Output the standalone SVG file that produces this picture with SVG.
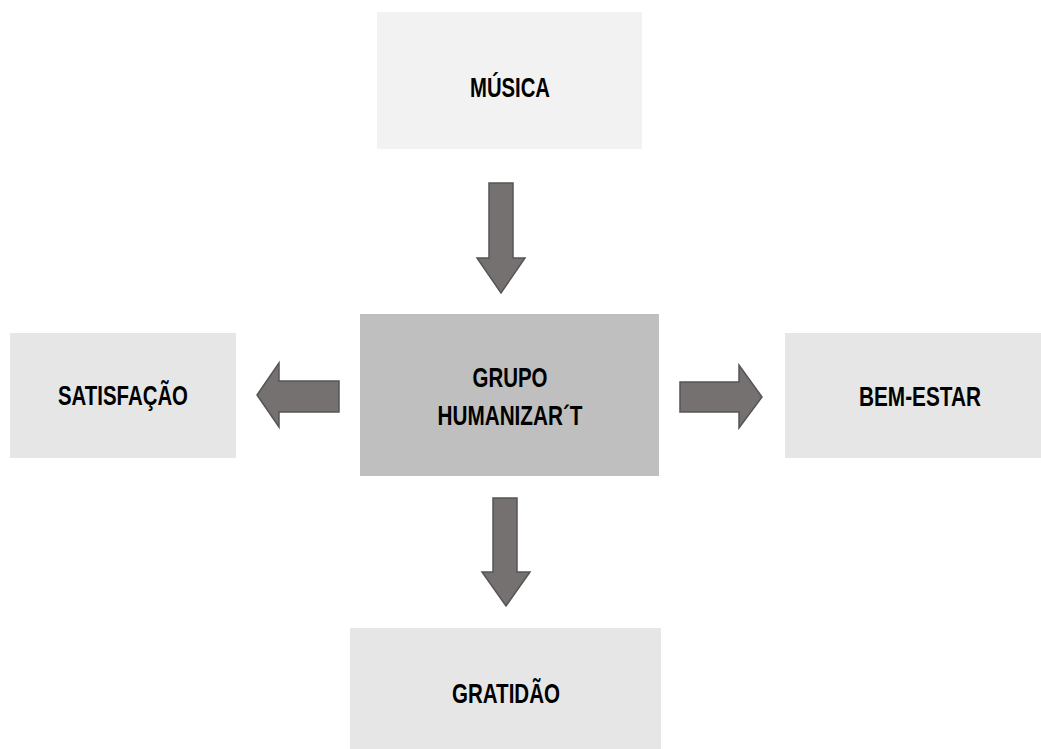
<svg xmlns="http://www.w3.org/2000/svg" width="1041" height="749" viewBox="0 0 1041 749">
<style>
.lbl{font-family:"Liberation Sans",Arial,sans-serif;font-weight:bold;font-size:28px;fill:#000;text-anchor:middle}
.arr{fill:#767171;stroke:#555;stroke-width:1.5;stroke-linejoin:miter}
</style>
<rect width="1041" height="749" fill="#fff"/>
<g id="musica"><rect x="377" y="12" width="265" height="137" fill="#f2f2f2"/><text class="lbl" x="510" y="97" textLength="80" lengthAdjust="spacingAndGlyphs">MÚSICA</text></g>
<g id="grupo"><rect x="360" y="314" width="299" height="162" fill="#bfbfbf"/><text class="lbl" x="510" y="387" textLength="75" lengthAdjust="spacingAndGlyphs">GRUPO</text><text class="lbl" x="510" y="425" textLength="145" lengthAdjust="spacingAndGlyphs">HUMANIZAR´T</text></g>
<g id="satisfacao"><rect x="10" y="333" width="226" height="125" fill="#e6e6e6"/><text class="lbl" x="123" y="405" textLength="130" lengthAdjust="spacingAndGlyphs">SATISFAÇÃO</text></g>
<g id="bemestar"><rect x="785" y="333" width="256" height="125" fill="#e6e6e6"/><text class="lbl" x="920" y="406" textLength="122" lengthAdjust="spacingAndGlyphs">BEM-ESTAR</text></g>
<g id="gratidao"><rect x="350" y="628" width="311" height="121" fill="#e6e6e6"/><text class="lbl" x="506" y="703" textLength="108" lengthAdjust="spacingAndGlyphs">GRATIDÃO</text></g>
<g id="connectors">
<polygon class="arr" points="489,183 513,183 513,258 525,258 501,293 477,258 489,258"/>
<polygon class="arr" points="339,381 339,412 279,412 279,427 257,395 279,363 279,381"/>
<polygon class="arr" points="680,382 739,382 739,365 762,397 739,428 739,412 680,412"/>
<polygon class="arr" points="493,498 517,498 517,572 530,572 506,606 482,572 493,572"/>
</g>
</svg>
